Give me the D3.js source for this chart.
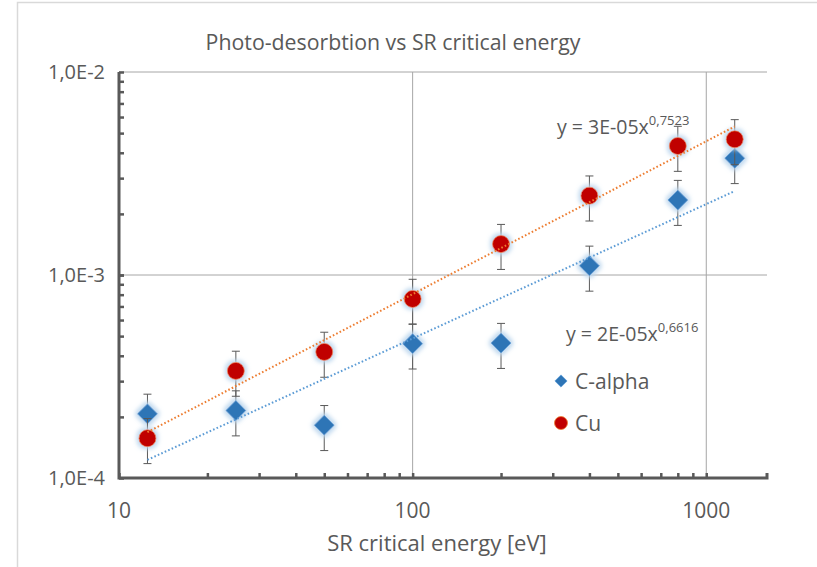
<!DOCTYPE html>
<html>
<head>
<meta charset="utf-8">
<title>Photo-desorbtion vs SR critical energy</title>
<style>
  body { margin: 0; background: #fff; }
  text { font-family: "Open Sans", sans-serif; fill: #595959; }
</style>
</head>
<body>
<script src="https://cdn.jsdelivr.net/npm/d3@7"></script>
<script>
// critical energy [eV]
var energy = [12.5, 25, 50, 100, 200, 400, 800, 1250];
// photo-desorption yields
var calpha = [2.07e-4, 2.15e-4, 1.82e-4, 4.59e-4, 4.62e-4, 1.11e-3, 2.34e-3, 3.76e-3];
var cu     = [1.57e-4, 3.37e-4, 4.18e-4, 7.62e-4, 1.42e-3, 2.46e-3, 4.32e-3, 4.66e-3];
var errPct = 0.25; // percentage error bars
var xTicks = [10, 100, 1000];
var yTicks = [1e-4, 1e-3, 1e-2];
var yTickLabels = ["1,0E-4", "1,0E-3", "1,0E-2"];
var seriesNames = ["C-alpha", "Cu"];
var fitLabels = [["y = 2E-05x", "0,6616"], ["y = 3E-05x", "0,7523"]];

var W = 817, H = 567;
var margin = {left: 119, right: 50, top: 72, bottom: 89};

var svg = d3.select("body").append("svg")
    .attr("width", W).attr("height", H);

// glow filter (excel style)
var defs = svg.append("defs");
var glow = defs.append("filter").attr("id", "glow")
    .attr("x", "-60%").attr("y", "-60%").attr("width", "220%").attr("height", "220%");
glow.append("feMorphology").attr("in", "SourceAlpha").attr("operator", "dilate").attr("radius", 1.5).attr("result", "d");
glow.append("feGaussianBlur").attr("in", "d").attr("stdDeviation", 2).attr("result", "b");
glow.append("feFlood").attr("flood-color", "#bdd7ee").attr("flood-opacity", 0.95);
glow.append("feComposite").attr("in2", "b").attr("operator", "in").attr("result", "g");
var mg = glow.append("feMerge");
mg.append("feMergeNode").attr("in", "g");
mg.append("feMergeNode").attr("in", "SourceGraphic");

// chart frame
svg.append("path")
    .attr("d", "M17.5," + H + "V2.5H" + W)
    .attr("fill", "none").attr("stroke", "#d9d9d9").attr("stroke-width", 1.5);

var x = d3.scaleLog().domain([10, 1610]).range([margin.left, W - margin.right]);
var y = d3.scaleLog().domain([1e-4, 1e-2]).range([H - margin.bottom, margin.top]);

// gridlines
var grid = svg.append("g");
grid.selectAll(".hg").data(yTicks.slice(1)).enter().append("line")
    .attr("x1", x.range()[0]).attr("x2", x.range()[1])
    .attr("y1", function(d){return y(d);}).attr("y2", function(d){return y(d);})
    .attr("stroke", "#a6a6a6").attr("stroke-width", 1);
grid.selectAll(".vg").data(xTicks.slice(1)).enter().append("line")
    .attr("y1", y.range()[0]).attr("y2", y.range()[1])
    .attr("x1", function(d){return x(d);}).attr("x2", function(d){return x(d);})
    .attr("stroke", "#a6a6a6").attr("stroke-width", 1);

// axes with inside ticks
var xMinor = [], yMinor = [];
[10, 100, 1000].forEach(function(p){
  for (var k = 1; k < 10; k++) { var v = p * k; if (v >= 10 && v <= 1610) xMinor.push(v); }
});
[1e-4, 1e-3].forEach(function(p){
  for (var k = 1; k <= 10; k++) yMinor.push(p * k);
});

var axisColor = "#595959";
var yAxis = d3.axisLeft(y).tickValues(yMinor).tickSize(-5).tickFormat("");
svg.append("g").attr("transform", "translate(" + margin.left + ",0)").call(yAxis)
   .call(function(g){
     g.select(".domain").remove();
     g.selectAll("line").attr("stroke", axisColor).attr("stroke-width", 2.5);
   });
var xAxis = d3.axisBottom(x).tickValues(xMinor).tickSize(-5).tickFormat("");
svg.append("g").attr("transform", "translate(0," + (H - margin.bottom) + ")").call(xAxis)
   .call(function(g){
     g.select(".domain").remove();
     g.selectAll("line").attr("stroke", axisColor).attr("stroke-width", 2.5);
   });
svg.append("path")
    .attr("d", "M" + margin.left + "," + margin.top + "V" + (H - margin.bottom) + "H" + (W - margin.right) + "v-5")
    .attr("fill", "none").attr("stroke", axisColor).attr("stroke-width", 3);

// tick labels
svg.selectAll(".ylab").data(yTicks).enter().append("text")
    .attr("x", 105).attr("y", function(d){return y(d);})
    .attr("dy", "0.36em").attr("text-anchor", "end")
    .attr("font-size", 20)
    .text(function(d, i){return yTickLabels[i];});
svg.selectAll(".xlab").data(xTicks).enter().append("text")
    .attr("x", function(d){return x(d);}).attr("y", 518)
    .attr("text-anchor", "middle").attr("font-size", 21)
    .text(function(d){return d;});

svg.append("text").attr("x", 437).attr("y", 551).attr("text-anchor", "middle")
   .attr("font-size", 22).text("SR critical energy [eV]");
svg.append("text").attr("x", 393).attr("y", 50).attr("text-anchor", "middle")
   .attr("font-size", 21.3).text("Photo-desorbtion vs SR critical energy");

// power-law fit in log space (like excel trendline)
function powerFit(xs, ys) {
  var lx = xs.map(Math.log10), ly = ys.map(Math.log10);
  var mx = d3.mean(lx), my = d3.mean(ly);
  var sxy = d3.sum(lx, function(v, i){return (v - mx) * (ly[i] - my);});
  var sxx = d3.sum(lx, function(v){return (v - mx) * (v - mx);});
  var b = sxy / sxx;
  return {a: Math.pow(10, my - b * mx), b: b};
}

var series = [
  {name: seriesNames[0], values: calpha, color: "#2e75b6", trend: "#5b9bd5", shape: "diamond"},
  {name: seriesNames[1], values: cu, color: "#c00000", trend: "#ed7d31", shape: "circle"}
];

var diamond = d3.symbol().type(d3.symbolDiamond2);

series.forEach(function(s){
  var pts = energy.map(function(e, i){return {x: e, y: s.values[i]};});
  var g = svg.append("g");
  // error bars
  var eb = g.selectAll(".eb").data(pts).enter().append("g").attr("stroke", "#595959").attr("stroke-width", 1);
  eb.append("line").attr("x1", function(d){return x(d.x);}).attr("x2", function(d){return x(d.x);})
    .attr("y1", function(d){return y(d.y * (1 + errPct));}).attr("y2", function(d){return y(d.y * (1 - errPct));});
  [1 + errPct, 1 - errPct].forEach(function(f){
    eb.append("line").attr("x1", function(d){return x(d.x) - 4;}).attr("x2", function(d){return x(d.x) + 4;})
      .attr("y1", function(d){return y(d.y * f);}).attr("y2", function(d){return y(d.y * f);});
  });
  s.g = g; s.pts = pts;
});

series.forEach(function(s){
  if (s.shape === "diamond") {
    s.g.selectAll(".m").data(s.pts).enter().append("path")
      .attr("d", diamond.size(250)())
      .attr("transform", function(d){return "translate(" + x(d.x) + "," + y(d.y) + ")";})
      .attr("fill", s.color).attr("stroke", "#5b9bd5").attr("stroke-width", 0.8)
      .attr("filter", "url(#glow)");
  } else {
    s.g.selectAll(".m").data(s.pts).enter().append("circle")
      .attr("cx", function(d){return x(d.x);}).attr("cy", function(d){return y(d.y);})
      .attr("r", 8.5)
      .attr("fill", s.color).attr("stroke", "#ed7d31").attr("stroke-width", 0.8)
      .attr("filter", "url(#glow)");
  }
});

// trendlines on top
series.forEach(function(s){
  var f = powerFit(energy, s.values);
  var x0 = d3.min(energy), x1 = d3.max(energy);
  svg.append("line")
    .attr("x1", x(x0)).attr("y1", y(f.a * Math.pow(x0, f.b)))
    .attr("x2", x(x1)).attr("y2", y(f.a * Math.pow(x1, f.b)))
    .attr("stroke", s.trend).attr("stroke-width", 2)
    .attr("stroke-dasharray", "1.6,2.2");
});

// trendline equations
var eqPos = [[566, 341], [557, 134]];
fitLabels.forEach(function(l, i){
  var t = svg.append("text").attr("x", eqPos[i][0]).attr("y", eqPos[i][1]).attr("font-size", 19.5);
  t.append("tspan").text(l[0]);
  t.append("tspan").attr("dy", -9).attr("font-size", 13).text(l[1]);
});

// legend
var legY = [381, 423];
series.forEach(function(s, i){
  var lg = svg.append("g").attr("transform", "translate(561," + legY[i] + ")");
  if (s.shape === "diamond") {
    lg.append("path").attr("d", diamond.size(95)()).attr("fill", s.color)
      .attr("stroke", "#5b9bd5").attr("stroke-width", 0.8);
  } else {
    lg.append("circle").attr("r", 6.5).attr("fill", s.color)
      .attr("stroke", "#ed7d31").attr("stroke-width", 0.8);
  }
  lg.append("text").attr("x", 14).attr("dy", "0.36em").attr("font-size", 21).text(s.name);
});
</script>
</body>
</html>
